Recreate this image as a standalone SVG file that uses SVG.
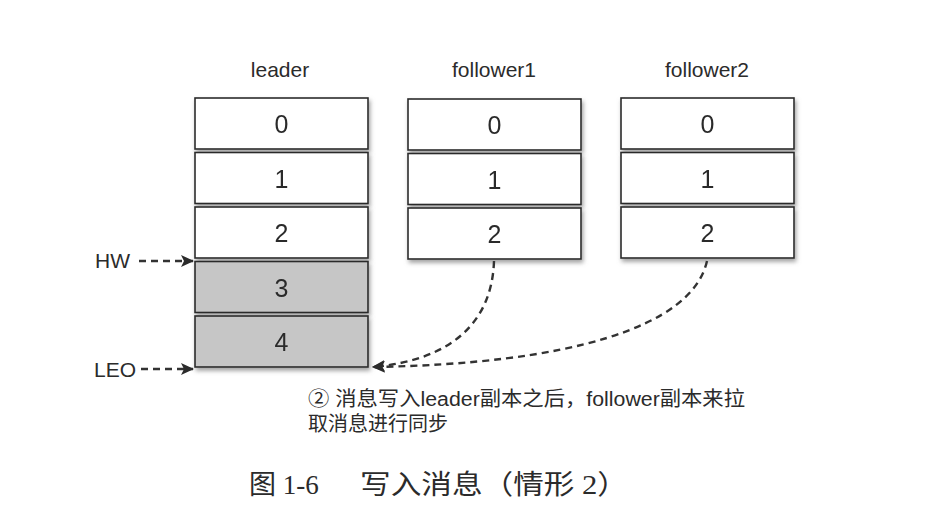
<svg xmlns="http://www.w3.org/2000/svg" width="934" height="518" viewBox="0 0 934 518">
<defs>
<style>
.cell{stroke:#2b2b2b;stroke-width:1.6}
.w{fill:#ffffff}
.g{fill:#c6c6c6}
.num{font-family:"Liberation Sans",Arial,sans-serif;font-size:25px;fill:#2b2b2b;text-anchor:middle}
.title{font-family:"Liberation Sans",Arial,sans-serif;font-size:21px;fill:#2b2b2b;text-anchor:middle}
.lab{font-family:"Liberation Sans",Arial,sans-serif;font-size:21px;fill:#2b2b2b}
.note{font-family:"Liberation Sans","Noto Sans CJK SC",sans-serif;font-size:20px;fill:#2b2b2b}
.cap{font-family:"Liberation Serif","Noto Sans CJK SC",serif;font-size:27px;fill:#2b2b2b}
.dash{fill:none;stroke:#333;stroke-width:2.4;stroke-dasharray:7 5}
</style>
<filter id="sh" x="-10%" y="-20%" width="125%" height="150%">
<feDropShadow dx="1.5" dy="3" stdDeviation="2" flood-color="#7a7a7a" flood-opacity="0.7"/>
</filter>
<marker id="ah" markerUnits="userSpaceOnUse" markerWidth="13" markerHeight="12" refX="12" refY="6" orient="auto">
<path d="M0,0 L13,6 L0,12 L3,6 z" fill="#2b2b2b"/>
</marker>
</defs>
<rect width="934" height="518" fill="#ffffff"/>

<g id="title-leader"><text class="title" x="280" y="77">leader</text></g>
<g id="title-follower1"><text class="title" x="494" y="77">follower1</text></g>
<g id="title-follower2"><text class="title" x="707" y="77">follower2</text></g>

<g id="leader-0" filter="url(#sh)"><rect class="cell w" x="195" y="98" width="173" height="51"/><text class="num" x="281.5" y="133">0</text></g>
<g id="leader-1" filter="url(#sh)"><rect class="cell w" x="195" y="152.5" width="173" height="51"/><text class="num" x="281.5" y="187.5">1</text></g>
<g id="leader-2" filter="url(#sh)"><rect class="cell w" x="195" y="207" width="173" height="51"/><text class="num" x="281.5" y="242">2</text></g>
<g id="leader-3" filter="url(#sh)"><rect class="cell g" x="195" y="261.5" width="173" height="51"/><text class="num" x="281.5" y="296.5">3</text></g>
<g id="leader-4" filter="url(#sh)"><rect class="cell g" x="195" y="316" width="173" height="51"/><text class="num" x="281.5" y="351">4</text></g>

<g id="follower1-0" filter="url(#sh)"><rect class="cell w" x="408" y="99" width="173" height="51"/><text class="num" x="494.5" y="134">0</text></g>
<g id="follower1-1" filter="url(#sh)"><rect class="cell w" x="408" y="153.5" width="173" height="51"/><text class="num" x="494.5" y="188.5">1</text></g>
<g id="follower1-2" filter="url(#sh)"><rect class="cell w" x="408" y="208" width="173" height="51"/><text class="num" x="494.5" y="243">2</text></g>

<g id="follower2-0" filter="url(#sh)"><rect class="cell w" x="621" y="98" width="173" height="51"/><text class="num" x="707.5" y="133">0</text></g>
<g id="follower2-1" filter="url(#sh)"><rect class="cell w" x="621" y="152.5" width="173" height="51"/><text class="num" x="707.5" y="187.5">1</text></g>
<g id="follower2-2" filter="url(#sh)"><rect class="cell w" x="621" y="207" width="173" height="51"/><text class="num" x="707.5" y="242">2</text></g>

<g id="label-hw"><text class="lab" x="95" y="268">HW</text></g>
<g id="label-leo"><text class="lab" x="94" y="377">LEO</text></g>

<g id="connectors">
<line class="dash" x1="139" y1="261" x2="193" y2="261" marker-end="url(#ah)"/>
<line class="dash" x1="141" y1="369" x2="193" y2="369" marker-end="url(#ah)"/>
<path class="dash" d="M494,261 C492,322 452,360 373,367" marker-end="url(#ah)"/>
<path class="dash" d="M707,261 C692,328 566,364 373,367" marker-end="url(#ah)"/>
</g>

<g id="note">
<text class="note" x="308" y="406" textLength="437" lengthAdjust="spacingAndGlyphs">② 消息写入leader副本之后，follower副本来拉</text>
<text class="note" x="308" y="431">取消息进行同步</text>
</g>

<g id="caption">
<text class="cap" x="249" y="494">图 1-6</text>
<text class="cap" x="360" y="494" textLength="268" lengthAdjust="spacingAndGlyphs">写入消息（情形 2）</text>
</g>
</svg>
